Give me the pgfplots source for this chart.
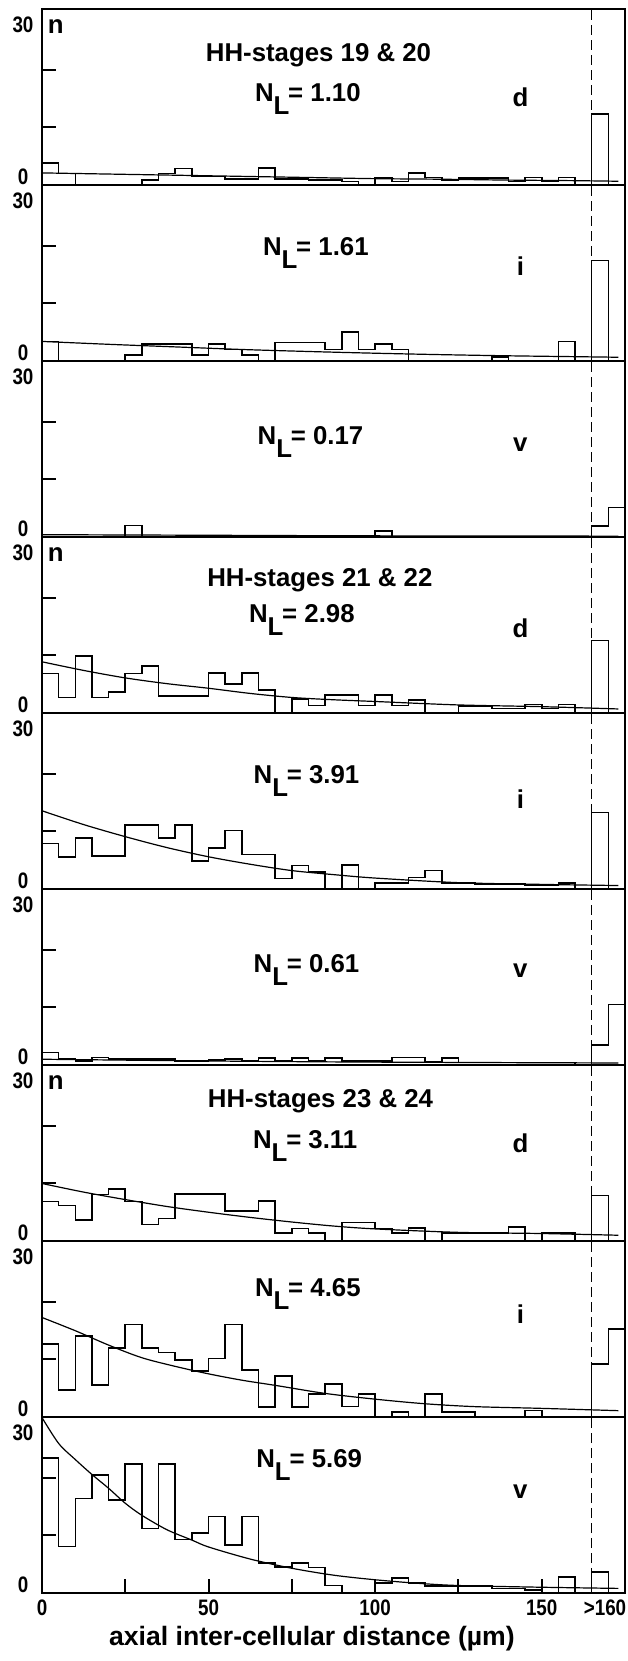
\documentclass[border=0pt]{standalone}
\usepackage{fontspec}
\setmainfont{Liberation Sans}
\newfontfamily\narrowfont[FakeStretch=0.84]{Liberation Sans}
\usepackage{pgfplots}
\pgfplotsset{compat=1.18}

\newcommand{\lab}{\fontsize{12.9}{14}\selectfont\bfseries}
\newcommand{\tck}{\narrowfont\fontsize{11.2}{12}\selectfont\bfseries}
\newcommand{\NL}[1]{N\raisebox{-6.5pt}{L}\kern-0.6pt= #1}

\pgfplotsset{
  panel/.style={
    width=291.5pt, height=88pt, scale only axis, anchor=south west,
    xmin=0, xmax=175, ymin=0, ymax=30.6,
    axis line style={line width=1.1pt},
    xtick=\empty, ytick={1.5,27.8}, yticklabels={0,30},
    minor ytick={10,20},
    major tick length=0pt, minor tick length=7pt,
    tick align=inside, ytick pos=left, xtick pos=bottom,
    tick style={line width=1pt, black},
    yticklabel style={anchor=center, xshift=-9.5pt, font=\tck},
    xticklabel style={font=\tck},
  },
  lastrow/.style={minor xtick={25,50,75,100,125,150}},
  hist/.style={const plot mark left, line width=0.8pt, black, no markers},
  fit/.style={smooth, line width=0.6pt, black, no markers},
  cut/.style={line width=0.6pt, black, dash pattern=on 5pt off 2.5pt, no markers},
}
\tikzset{txt/.style={font=\lab, anchor=base}}

\begin{document}
\begin{tikzpicture}
\useasboundingbox (-21pt,-34pt) rectangle (292.5pt,796.5pt);

% ---- HH 19 & 20, d
\begin{axis}[panel, at={(0pt,704pt)}]
\addplot[hist] coordinates {(0,0)(0,3.8)(5,2)(10,0)(15,0)(20,0)(25,0)(30,0.9)(35,2)(40,2.9)(45,1.5)(50,1.5)(55,1)(60,1)(65,3)(70,1)(75,1)(80,0.9)(85,0.9)(90,0.6)(95,0)(100,1.2)(105,0.6)(110,2.1)(115,1.3)(120,0.9)(125,1.2)(130,1.2)(135,1.2)(140,0.6)(145,1.3)(150,0.6)(155,1.3)(160,0)};
\addplot[hist] coordinates {(165,0)(165,12.3)(170,0)(175,0)};
\addplot[fit] coordinates {(0,2.1)(20,1.9)(40,1.7)(60,1.5)(80,1.3)(100,1.1)(120,1.0)(140,0.85)(160,0.75)(173,0.65)};
\addplot[cut] coordinates {(165,0)(165,30.6)};
\node[txt] at (axis cs:4.1,26.4) {n};
\node[txt] at (axis cs:83,21.5) {HH-stages 19 \& 20};
\node[txt] at (axis cs:79.8,14.6) {\NL{1.10}};
\node[txt] at (axis cs:143.6,13.6) {d};
\end{axis}

% ---- i
\begin{axis}[panel, at={(0pt,616pt)}]
\addplot[hist] coordinates {(0,0)(0,3.4)(5,0)(10,0)(15,0)(20,0)(25,1)(30,3)(35,3)(40,3)(45,1)(50,3)(55,2)(60,1)(65,0)(70,3.2)(75,3.2)(80,3.2)(85,2)(90,5)(95,2)(100,3)(105,2)(110,0)(115,0)(120,0)(125,0)(130,0)(135,0.7)(140,0)(145,0)(150,0)(155,3.4)(160,0)};
\addplot[hist] coordinates {(165,0)(165,17.5)(170,0)(175,0)};
\addplot[fit] coordinates {(0,3.4)(20,2.9)(40,2.45)(60,2.0)(80,1.65)(100,1.35)(120,1.1)(140,0.9)(160,0.75)(173,0.65)};
\addplot[cut] coordinates {(165,0)(165,30.6)};
\node[txt] at (axis cs:82.2,18.4) {\NL{1.61}};
\node[txt] at (axis cs:143.6,14.9) {i};
\end{axis}

% ---- v
\begin{axis}[panel, lastrow, at={(0pt,528pt)}]
\addplot[hist] coordinates {(0,0)(25,0)(25,2)(30,0)(100,0)(100,1)(105,0)(160,0)};
\addplot[hist] coordinates {(165,0)(165,1.9)(170,5.1)(175,0)};
\addplot[fit] coordinates {(0,0.4)(50,0.3)(100,0.2)(173,0.15)};
\addplot[cut] coordinates {(165,0)(165,30.6)};
\node[txt] at (axis cs:80.6,16.1) {\NL{0.17}};
\node[txt] at (axis cs:143.6,14.9) {v};
\end{axis}

% ---- HH 21 & 22, d
\begin{axis}[panel, at={(0pt,440pt)}]
\addplot[hist] coordinates {(0,0)(0,6.9)(5,2.7)(10,9.9)(15,2.7)(20,3.7)(25,6.9)(30,8.2)(35,3)(40,3)(45,3)(50,7)(55,5)(60,7)(65,4)(70,0)(75,2.4)(80,1.3)(85,3.1)(90,3.1)(95,1.3)(100,3.1)(105,1.3)(110,2.3)(115,0)(120,0)(125,1.2)(130,1.2)(135,0.8)(140,0.8)(145,1.5)(150,0.8)(155,1.5)(160,0)};
\addplot[hist] coordinates {(165,0)(165,12.6)(170,0)(175,0)};
\addplot[fit] coordinates {(0,8.9)(12.5,7.4)(25,6.1)(37.5,5.1)(50,4.3)(62.5,3.4)(75,2.7)(87.5,2.3)(100,2.0)(125,1.4)(150,1.1)(173,0.7)};
\addplot[cut] coordinates {(165,0)(165,30.6)};
\node[txt] at (axis cs:4.1,26.4) {n};
\node[txt] at (axis cs:83.4,22) {HH-stages 21 \& 22};
\node[txt] at (axis cs:78,15.7) {\NL{2.98}};
\node[txt] at (axis cs:143.6,13.1) {d};
\end{axis}

% ---- i
\begin{axis}[panel, at={(0pt,352pt)}]
\addplot[hist] coordinates {(0,0)(0,7.9)(5,5.6)(10,8.9)(15,5.7)(20,5.7)(25,11.1)(30,11.1)(35,8.9)(40,11.1)(45,4.9)(50,7.1)(55,10.2)(60,6)(65,6)(70,1.8)(75,4.1)(80,3.0)(85,0)(90,4.2)(95,0)(100,1.0)(105,1.0)(110,2)(115,3.2)(120,1.0)(125,1.0)(130,0.9)(135,0.9)(140,0.9)(145,0.7)(150,0.7)(155,1.0)(160,0)};
\addplot[hist] coordinates {(165,0)(165,13.3)(170,0)(175,0)};
\addplot[fit] coordinates {(0,13.6)(12.5,11.2)(25,9.1)(37.5,7.2)(50,5.6)(62.5,4.3)(75,3.2)(87.5,2.5)(100,1.9)(125,1.1)(150,0.8)(173,0.6)};
\addplot[cut] coordinates {(165,0)(165,30.6)};
\node[txt] at (axis cs:79.4,18.4) {\NL{3.91}};
\node[txt] at (axis cs:143.6,14) {i};
\end{axis}

% ---- v
\begin{axis}[panel, lastrow, at={(0pt,264pt)}]
\addplot[hist] coordinates {(0,0)(0,2.2)(5,1)(10,0.7)(15,1.3)(20,1)(25,1)(30,1)(35,1)(40,0.7)(45,0.7)(50,0.9)(55,1)(60,0.7)(65,1.2)(70,0.7)(75,1.2)(80,0.7)(85,1.2)(90,0.7)(95,0.7)(100,0.7)(105,1.3)(110,1.3)(115,0.6)(120,1.2)(125,0.4)(130,0.4)(135,0.4)(140,0.4)(145,0.4)(150,0.4)(155,0.4)(160,0)};
\addplot[hist] coordinates {(165,0)(165,3.5)(170,10.5)(175,0)};
\addplot[fit] coordinates {(0,1.0)(50,0.7)(100,0.5)(173,0.35)};
\addplot[cut] coordinates {(165,0)(165,30.6)};
\node[txt] at (axis cs:79.4,16.1) {\NL{0.61}};
\node[txt] at (axis cs:143.6,15.2) {v};
\end{axis}

% ---- HH 23 & 24, d
\begin{axis}[panel, at={(0pt,176pt)}]
\addplot[hist] coordinates {(0,0)(0,6.9)(5,6.2)(10,3.7)(15,8.1)(20,9.0)(25,6.9)(30,2.9)(35,3.9)(40,8.2)(45,8.2)(50,8.2)(55,5.2)(60,5.2)(65,7)(70,1.4)(75,2.2)(80,1.4)(85,0)(90,3.2)(95,3.2)(100,2.2)(105,1.4)(110,2.3)(115,0)(120,1.4)(125,1.4)(130,1.4)(135,1.4)(140,2.4)(145,0)(150,1.4)(155,1.4)(160,0)};
\addplot[hist] coordinates {(165,0)(165,7.9)(170,0)(175,0)};
\addplot[fit] coordinates {(0,10)(12.5,8.5)(25,7.2)(37.5,6.0)(50,5.0)(62.5,4.1)(75,3.3)(87.5,2.6)(100,2.1)(125,1.5)(150,1.3)(173,1.0)};
\addplot[cut] coordinates {(165,0)(165,30.6)};
\node[txt] at (axis cs:4.1,26.4) {n};
\node[txt] at (axis cs:83.6,23.2) {HH-stages 23 \& 24};
\node[txt] at (axis cs:79,16) {\NL{3.11}};
\node[txt] at (axis cs:143.6,15.4) {d};
\end{axis}

% ---- i
\begin{axis}[panel, at={(0pt,88pt)}]
\addplot[hist] coordinates {(0,0)(0,12.7)(5,4.7)(10,14.1)(15,5.6)(20,12.0)(25,16.1)(30,12.0)(35,11.2)(40,9.9)(45,8.0)(50,10.2)(55,16.1)(60,8.2)(65,1.7)(70,7.1)(75,1.7)(80,4.0)(85,5.7)(90,1.8)(95,4.0)(100,0)(105,0.9)(110,0)(115,4.0)(120,0.9)(125,0.9)(130,0)(135,0)(140,0)(145,1.1)(150,0)(155,0)(160,0)};
\addplot[hist] coordinates {(165,0)(165,9.2)(170,15.3)(175,0)};
\addplot[fit] coordinates {(0,17.3)(10,15)(20,12.5)(30,10.3)(40,8.8)(50,7.5)(60,6.4)(70,5.5)(85,4.1)(100,3.1)(115,2.3)(130,1.8)(150,1.5)(173,1.1)};
\addplot[cut] coordinates {(165,0)(165,30.6)};
\node[txt] at (axis cs:79.8,21) {\NL{4.65}};
\node[txt] at (axis cs:143.6,16.3) {i};
\end{axis}

% ---- v
\begin{axis}[panel, lastrow, at={(0pt,0pt)},
  xtick={0,50,100,150,169}, xticklabels={0,50,100,150,{>160}},
  xlabel={\fontsize{13.3}{15}\selectfont\bfseries axial inter-cellular distance (µm)},
  xlabel style={at={(axis description cs:0.463,0)}, anchor=center, yshift=-23pt}]
\addplot[hist] coordinates {(0,0)(0,23.5)(5,8.1)(10,16.4)(15,20.5)(20,16.2)(25,22.4)(30,11.2)(35,22.4)(40,9.3)(45,10.4)(50,13.3)(55,8.3)(60,13.3)(65,5.2)(70,4.5)(75,5.2)(80,4.4)(85,1.3)(90,0)(95,0)(100,1.7)(105,2.6)(110,1.7)(115,1.2)(120,1.2)(125,1.2)(130,1.2)(135,0.8)(140,0.8)(145,0.5)(150,0)(155,2.8)(160,0)};
\addplot[hist] coordinates {(165,0)(165,3.7)(170,0)(175,0)};
\addplot[fit] coordinates {(0,30.5)(5,26)(10,23.2)(15,20.6)(20,18.2)(25,15.6)(30,13.5)(37.5,11.0)(45,9.2)(50,8)(62.5,5.9)(75,4.3)(87.5,3.1)(100,2.3)(112.5,1.7)(125,1.3)(150,1.0)(173,0.8)};
\addplot[cut] coordinates {(165,0)(165,30.6)};
\node[txt] at (axis cs:80.2,21.8) {\NL{5.69}};
\node[txt] at (axis cs:143.6,16.4) {v};
\end{axis}
\end{tikzpicture}
\end{document}
